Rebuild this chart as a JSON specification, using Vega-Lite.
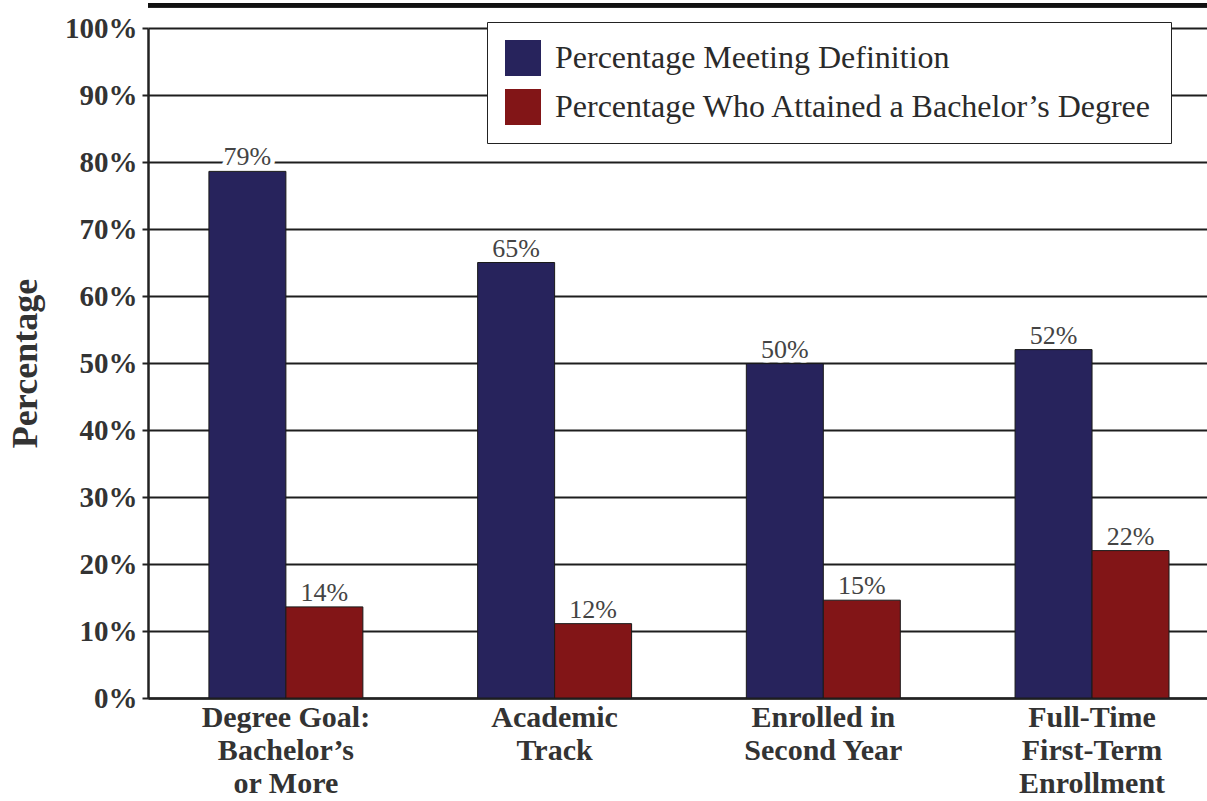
{
  "$schema": "https://vega.github.io/schema/vega-lite/v6.json",
  "width": 1059,
  "height": 670,
  "autosize": {"type": "none"},
  "padding": {"left": 148, "top": 28, "right": 0, "bottom": 103},
  "background": "white",
  "config": {"view": {"stroke": null}, "font": "Liberation Serif"},
  "data": {
    "values": [
      {"group": "Degree Goal:|Bachelor’s|or More", "series": "Percentage Meeting Definition", "value": 78.6, "label": "79%"},
      {"group": "Degree Goal:|Bachelor’s|or More", "series": "Percentage Who Attained a Bachelor’s Degree", "value": 13.6, "label": "14%"},
      {"group": "Academic|Track", "series": "Percentage Meeting Definition", "value": 65, "label": "65%"},
      {"group": "Academic|Track", "series": "Percentage Who Attained a Bachelor’s Degree", "value": 11.1, "label": "12%"},
      {"group": "Enrolled in|Second Year", "series": "Percentage Meeting Definition", "value": 49.9, "label": "50%"},
      {"group": "Enrolled in|Second Year", "series": "Percentage Who Attained a Bachelor’s Degree", "value": 14.6, "label": "15%"},
      {"group": "Full-Time|First-Term|Enrollment", "series": "Percentage Meeting Definition", "value": 52, "label": "52%"},
      {"group": "Full-Time|First-Term|Enrollment", "series": "Percentage Who Attained a Bachelor’s Degree", "value": 22, "label": "22%"}
    ]
  },
  "encoding": {
    "x": {
      "field": "group", "type": "nominal", "sort": null,
      "scale": {"paddingInner": 0.427, "paddingOuter": 0.184, "align": 0.616},
      "axis": {
        "title": null, "labelAngle": 0, "labelExpr": "split(datum.label, '|')",
        "labelFont": "Liberation Serif", "labelFontSize": 30, "labelFontWeight": "bold",
        "labelColor": "#333", "labelLineHeight": 33, "labelPadding": 4, "labelLimit": 400,
        "ticks": false, "domainColor": "#222", "domainWidth": 2.5
      }
    },
    "xOffset": {"field": "series", "type": "nominal", "sort": null, "scale": {"paddingInner": 0, "paddingOuter": 0}},
    "y": {
      "field": "value", "type": "quantitative",
      "scale": {"domain": [0, 100], "nice": false},
      "axis": {
        "title": "Percentage", "titleFont": "Liberation Serif", "titleFontSize": 36, "titleFontWeight": "bold",
        "titleColor": "#333", "titlePadding": 20,
        "values": [0, 10, 20, 30, 40, 50, 60, 70, 80, 90, 100],
        "labelExpr": "datum.value + '%'",
        "labelFont": "Liberation Serif", "labelFontSize": 29, "labelFontWeight": "bold", "labelColor": "#333",
        "labelPadding": 5, "tickSize": 6, "tickColor": "#222", "tickWidth": 2,
        "domainColor": "#222", "domainWidth": 2.5,
        "grid": true, "gridColor": "#1e1e1e", "gridWidth": 2.2, "gridOpacity": 1
      }
    }
  },
  "layer": [
    {
      "mark": {"type": "rule", "color": "#111", "strokeWidth": 4},
      "encoding": {"x": null, "xOffset": null, "y": {"datum": 103.4, "type": "quantitative"}}
    },
    {
      "mark": {"type": "bar", "stroke": "#1a1a1a", "strokeWidth": 1},
      "encoding": {
        "color": {
          "field": "series", "type": "nominal", "sort": null,
          "scale": {
            "domain": ["Percentage Meeting Definition", "Percentage Who Attained a Bachelor’s Degree"],
            "range": ["#27235c", "#821517"]
          },
          "legend": {
            "orient": "none", "legendX": 339, "legendY": -6, "title": null,
            "symbolType": "square", "symbolSize": 1296, "symbolStrokeWidth": 0, "symbolOpacity": 1,
            "labelFont": "Liberation Serif", "labelFontSize": 32, "labelColor": "#2a2a2a",
            "labelOffset": 14, "labelLimit": 800, "rowPadding": 13, "padding": 18,
            "strokeColor": "#222", "fillColor": "white",
            "encode": {
              "legend": {"update": {"strokeWidth": {"value": 2.5}}},
              "symbols": {"update": {"fill": {"signal": "datum.value === 'Percentage Meeting Definition' ? '#262452' : '#c01f1f'"}}}
            }
          }
        }
      }
    },
    {
      "mark": {"type": "text", "baseline": "alphabetic", "dy": -6, "font": "Liberation Serif", "fontSize": 26,
               "fill": "white", "stroke": "white", "strokeWidth": 9, "strokeJoin": "round"},
      "encoding": {"text": {"field": "label"}}
    },
    {
      "mark": {"type": "text", "baseline": "alphabetic", "dy": -6, "font": "Liberation Serif", "fontSize": 26, "fill": "#444"},
      "encoding": {"text": {"field": "label"}}
    }
  ]
}
